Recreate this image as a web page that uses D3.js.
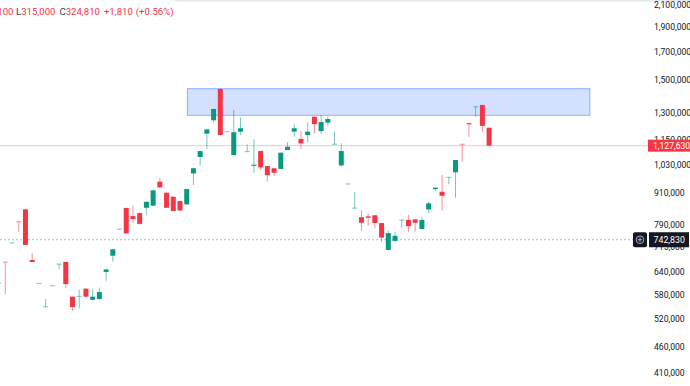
<!DOCTYPE html>
<html>
<head>
<meta charset="utf-8">
<script src="https://cdn.jsdelivr.net/npm/d3@7"></script>
<style>
body { margin: 0; background: #fff; }
svg { display: block; font-family: Roboto, "Noto Sans", sans-serif; }
</style>
</head>
<body>
<svg id="chart" width="690" height="386"></svg>
<script>

let width = 690
let height = 386

// one entry per bar, -1 is the half hidden bar on the left edge
let bars = d3.range(-1, 73)

let opens = [
	612000, 673000, 732000, 805000, 850000, 679000, 611000, 551000, 605000, 666000,
	673000, 577000, 577000, 598000, 569000, 571000, 644000, 692000, 778000, 855000,
	825000, 836000, 856000, 864000, 961000, 915000, 899000, 882000, 869000, 997000,
	1072000, 1189000, 1262000, 1450000, 1199000, 1082000, 1200000, 1098000, 1031000, 1101000,
	1030000, 1020000, 1017000, 1106000, 1200000, 1162000, 1182000, 1282000, 1203000, 1249000,
	1134000, 1033000, 951000, 854000, 821000, 824000, 828000, 800000, 710000, 739000,
	810000, 811000, 813000, 779000, 850000, 930000, 919000, 979000, 1002000, 1135000,
	1246000, 1340000, 1351000, 1221000
]

let highs = [
	613000, 673000, 733000, 805000, 851000, 700000, 612000, 571000, 606000, 667000,
	674000, 578000, 596000, 599000, 596000, 601000, 652000, 713000, 779000, 856000,
	865000, 837000, 880000, 926000, 976000, 916000, 900000, 883000, 931000, 1021000,
	1102000, 1213000, 1328000, 1455000, 1200000, 1321000, 1277000, 1134000, 1160000, 1102000,
	1031000, 1021000, 1094000, 1145000, 1241000, 1205000, 1249000, 1283000, 1292000, 1282000,
	1200000, 1140000, 952000, 919000, 847000, 835000, 829000, 801000, 773000, 770000,
	811000, 829000, 814000, 821000, 879000, 936000, 990000, 980000, 1059000, 1135000,
	1247000, 1341000, 1352000, 1222000
]

let lows = [
	612000, 584000, 732000, 770000, 725000, 672000, 611000, 551000, 605000, 652000,
	600000, 542000, 548000, 576000, 568000, 570000, 619000, 674000, 778000, 763000,
	800000, 795000, 829000, 863000, 936000, 855000, 843000, 844000, 868000, 947000,
	1032000, 1111000, 1249000, 1181000, 1199000, 1080000, 1182000, 1098000, 1000000, 1013000,
	961000, 986000, 1016000, 1105000, 1173000, 1111000, 1144000, 1191000, 1188000, 1231000,
	1134000, 1027000, 951000, 854000, 772000, 791000, 782000, 736000, 709000, 738000,
	783000, 770000, 770000, 778000, 835000, 922000, 845000, 950000, 895000, 1050000,
	1173000, 1282000, 1197000, 1127630
]

let closes = [
	613000, 672000, 733000, 804000, 726000, 673000, 612000, 552000, 606000, 667000,
	610000, 551000, 578000, 577000, 577000, 589000, 651000, 712000, 779000, 764000,
	814000, 797000, 879000, 925000, 937000, 856000, 844000, 846000, 930000, 1020000,
	1101000, 1212000, 1327000, 1182000, 1200000, 1197000, 1218000, 1099000, 1036000, 1024000,
	989000, 1000000, 1093000, 1122000, 1218000, 1139000, 1200000, 1241000, 1252000, 1269000,
	1135000, 1101000, 952000, 855000, 801000, 819000, 800000, 750000, 765000, 756000,
	811000, 789000, 801000, 811000, 873000, 936000, 903000, 980000, 1058000, 1134000,
	1240000, 1341000, 1231000, 1127630
]

let priceTicks = [2100000, 1900000, 1700000, 1500000, 1300000, 1150000, 1030000,
	910000, 790000, 715000, 640000, 580000, 520000, 460000, 410000]

// blue zone: bar range and price range
let zoneBars = [27.1, 87]
let zonePrices = [1290000, 1452000]

let lastPrice = 1127630
let markPrice = 742830

let legendParts = [
	{ text: 'L', kind: 'key' },
	{ text: '315,000', kind: 'val' },
	{ text: 'C', kind: 'key', gap: 4 },
	{ text: '324,810', kind: 'val' },
	{ text: '+1,810', kind: 'val', gap: 4 },
	{ text: '(+0.56%)', kind: 'val', gap: 3 }
]

let up = '#089981'
let down = '#F23645'
let textColor = '#131722'

let fmt = d3.format(',')

let svg = d3.select('#chart')

let x = d3.scaleLinear()
	.domain([0, 72])
	.range([5.3, 489.1])

let y = d3.scaleLog()
	.domain([410000, 2100000])
	.range([373.7, 5.5])

let data = bars.map((b, i) => ({
	bar: b,
	open: opens[i],
	high: highs[i],
	low: lows[i],
	close: closes[i]
}))

// faint top border
svg.append('rect')
	.attr('x', 175)
	.attr('y', 0)
	.attr('width', width - 175)
	.attr('height', 1.5)
	.attr('fill', '#e6e8ee')

// zone
svg.append('rect')
	.attr('x', x(zoneBars[0]))
	.attr('y', y(zonePrices[1]))
	.attr('width', x(zoneBars[1]) - x(zoneBars[0]))
	.attr('height', y(zonePrices[0]) - y(zonePrices[1]))
	.attr('fill', 'rgba(41,98,255,0.2)')
	.attr('stroke', 'rgba(41,98,255,0.45)')
	.attr('stroke-width', 1)

// price lines
svg.append('line')
	.attr('x1', 0)
	.attr('x2', 648)
	.attr('y1', y(lastPrice))
	.attr('y2', y(lastPrice))
	.attr('stroke', down)
	.attr('stroke-opacity', 0.3)
	.attr('stroke-width', 1)

svg.append('line')
	.attr('x1', 0)
	.attr('x2', 633)
	.attr('y1', y(markPrice))
	.attr('y2', y(markPrice))
	.attr('stroke', '#b2b5be')
	.attr('stroke-width', 1)
	.attr('stroke-dasharray', '2,2')

let candles = svg.append('g')
	.selectAll('g')
	.data(data)
	.enter()
	.append('g')

let colorOf = d => d.close >= d.open ? up : down
let isFlat = d => Math.abs(y(d.open) - y(d.close)) < 1

candles.append('line')
	.attr('x1', d => x(d.bar))
	.attr('x2', d => x(d.bar))
	.attr('y1', d => y(d.high))
	.attr('y2', d => y(d.low))
	.attr('stroke', colorOf)
	.attr('stroke-opacity', 0.55)
	.attr('stroke-width', 1)

candles.append('rect')
	.attr('x', d => x(d.bar) - 2.5)
	.attr('width', 5)
	.attr('y', d => isFlat(d) ? y(Math.max(d.open, d.close)) - 0.5 : y(Math.max(d.open, d.close)))
	.attr('height', d => isFlat(d) ? 1.2 : Math.abs(y(d.open) - y(d.close)))
	.attr('fill', colorOf)
	.attr('fill-opacity', d => isFlat(d) ? 0.45 : 1)

// price axis labels
svg.append('g')
	.selectAll('text')
	.data(priceTicks)
	.enter()
	.append('text')
	.attr('x', 654)
	.attr('y', d => y(d) - 1)
	.attr('dominant-baseline', 'central')
	.attr('font-size', 8.6)
	.attr('fill', textColor)
	.text(d => fmt(d))

// last price tag
svg.append('rect')
	.attr('x', 648)
	.attr('y', y(lastPrice) - 6)
	.attr('width', 42)
	.attr('height', 12)
	.attr('fill', down)

svg.append('text')
	.attr('x', 653)
	.attr('y', y(lastPrice))
	.attr('dominant-baseline', 'central')
	.attr('font-size', 8.6)
	.attr('fill', '#fff')
	.text(fmt(lastPrice))

// crosshair tag
svg.append('rect')
	.attr('x', 633)
	.attr('y', y(markPrice) - 7.5)
	.attr('width', 14)
	.attr('height', 15)
	.attr('rx', 2)
	.attr('fill', textColor)

svg.append('circle')
	.attr('cx', 640)
	.attr('cy', y(markPrice))
	.attr('r', 3.8)
	.attr('fill', 'none')
	.attr('stroke', '#d1d4dc')
	.attr('stroke-width', 0.8)

svg.append('path')
	.attr('d', `M637.8,${y(markPrice)}H642.2M640,${y(markPrice) - 2.2}V${y(markPrice) + 2.2}`)
	.attr('stroke', '#d1d4dc')
	.attr('stroke-width', 0.8)

svg.append('rect')
	.attr('x', 649)
	.attr('y', y(markPrice) - 7.5)
	.attr('width', 40)
	.attr('height', 15)
	.attr('fill', textColor)

svg.append('text')
	.attr('x', 653.5)
	.attr('y', y(markPrice))
	.attr('dominant-baseline', 'central')
	.attr('font-size', 8.8)
	.attr('fill', '#fff')
	.text(fmt(markPrice))

// legend line, the head of it is cut off by the left edge
svg.append('text')
	.attr('x', 13.5)
	.attr('y', 15.2)
	.attr('text-anchor', 'end')
	.attr('font-size', 9.6)
	.attr('fill', down)
	.text('330,100')

let legend = svg.append('text')
	.attr('x', 16)
	.attr('y', 15.2)
	.attr('font-size', 9.6)

legend.selectAll('tspan')
	.data(legendParts)
	.enter()
	.append('tspan')
	.attr('dx', d => d.gap || 0)
	.attr('fill', d => d.kind === 'key' ? '#434651' : down)
	.text(d => d.text)

</script>
</body>
</html>
